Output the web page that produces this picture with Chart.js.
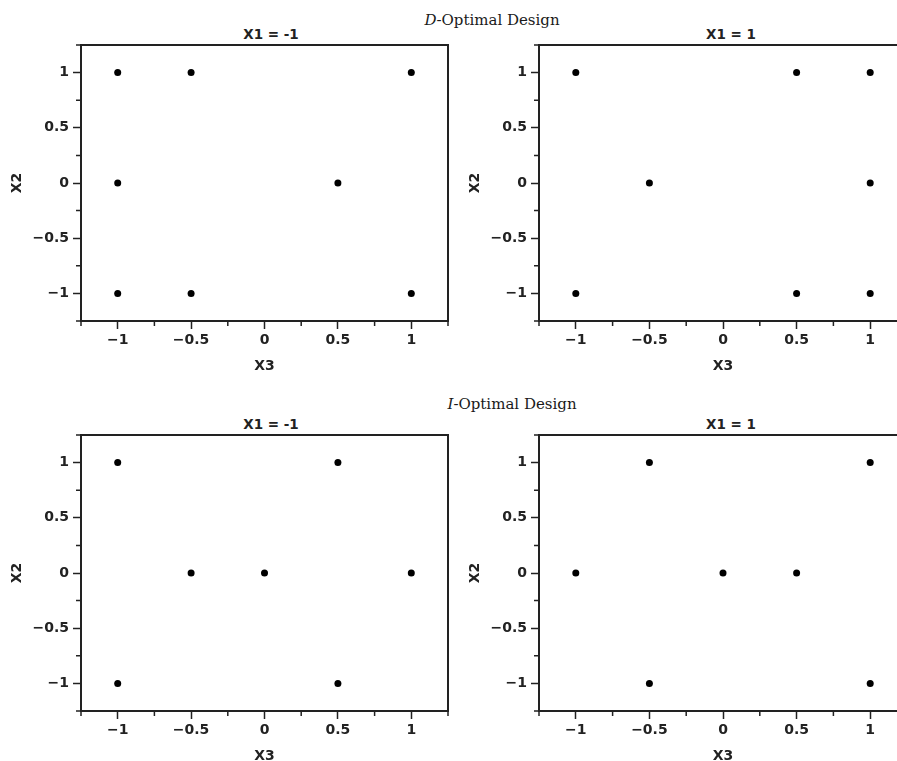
<!DOCTYPE html>
<html>
<head>
<meta charset="utf-8">
<script src="https://cdn.jsdelivr.net/npm/chart.js@4.4.1/dist/chart.umd.min.js"></script>
<style>
html, body { margin: 0; padding: 0; width: 897px; height: 761px; overflow: hidden; background: #fff; }
canvas { position: absolute; }
.sect { position: absolute; font-family: "DejaVu Serif", serif; font-size: 15px; line-height: 15px; color: #1a1a1a; white-space: nowrap; transform: translateX(-50%); }
.ptitle { position: absolute; font-family: "DejaVu Sans", sans-serif; font-weight: bold; font-size: 13.5px; line-height: 14px; color: #222; white-space: nowrap; transform: translateX(-50%); }
</style>
</head>
<body>
<div class="sect" style="left:492px; top:13px;"><i>D</i>-Optimal Design</div>
<div class="sect" style="left:512px; top:397px;"><i>I</i>-Optimal Design</div>
<div class="ptitle" style="left:271px; top:27px;">X1 = -1</div>
<div class="ptitle" style="left:731px; top:27px;">X1 = 1</div>
<div class="ptitle" style="left:271px; top:417px;">X1 = -1</div>
<div class="ptitle" style="left:731px; top:417px;">X1 = 1</div>

<canvas id="dLow" width="460" height="340" style="left:0px; top:40px;"></canvas>
<canvas id="dHigh" width="460" height="340" style="left:458px; top:40px;"></canvas>
<canvas id="iLow" width="460" height="340" style="left:0px; top:430px;"></canvas>
<canvas id="iHigh" width="460" height="340" style="left:458px; top:430px;"></canvas>

<script>
// ==================== DATA ====================
// design points: X3 on the horizontal axis, X2 on the vertical axis
const dOptLowX3 = [-1, -0.5, 1, -1, 0.5, -1, -0.5, 1];
const dOptLowX2 = [1, 1, 1, 0, 0, -1, -1, -1];
const dOptHighX3 = [-1, 0.5, 1, -0.5, 1, -1, 0.5, 1];
const dOptHighX2 = [1, 1, 1, 0, 0, -1, -1, -1];
const iOptLowX3 = [-1, 0.5, -0.5, 0, 1, -1, 0.5];
const iOptLowX2 = [1, 1, 0, 0, 0, -1, -1];
const iOptHighX3 = [-0.5, 1, -1, 0, 0.5, -0.5, 1];
const iOptHighX2 = [1, 1, 0, 0, 0, -1, -1];

const majorTicks = [-1, -0.5, 0, 0.5, 1];
const minorTicks = [-1.25, -0.75, -0.25, 0.25, 0.75, 1.25];
const axisMin = -1.25, axisMax = 1.25;

const INK = '#222';
const tickFont = { family: 'DejaVu Sans', size: 14, weight: 'bold' };

// ==================== HELPERS ====================
function fmt(v) {
    return v < 0 ? '\u2212' + Math.abs(v) : String(v);
}

// top/right frame + short minor ticks
const framePlugin = {
    id: 'frame',
    afterDraw(chart) {
        const { ctx, chartArea: a, scales } = chart;
        ctx.save();
        ctx.strokeStyle = INK;
        ctx.lineWidth = 2;
        ctx.beginPath();
        ctx.moveTo(a.left - 1, a.top);
        ctx.lineTo(a.right, a.top);
        ctx.lineTo(a.right, a.bottom + 1);
        ctx.stroke();

        ctx.lineWidth = 1.5;
        ctx.beginPath();
        minorTicks.forEach(v => {
            const x = scales.x.getPixelForValue(v);
            ctx.moveTo(x, a.bottom);
            ctx.lineTo(x, a.bottom + 5);
            const y = scales.y.getPixelForValue(v);
            ctx.moveTo(a.left, y);
            ctx.lineTo(a.left - 5, y);
        });
        ctx.stroke();
        ctx.restore();
    }
};

function axisOpts(title, isX) {
    return {
        type: 'linear',
        min: axisMin,
        max: axisMax,
        afterBuildTicks: s => { s.ticks = majorTicks.map(v => ({ value: v })); },
        afterFit: s => {
            // fixed axis sizes, no extra label padding around the plot
            if (isX) { s.height = 59; s.paddingLeft = 0; s.paddingRight = 0; }
            else { s.width = 81; s.paddingTop = 0; s.paddingBottom = 0; }
        },
        border: { display: true, color: INK, width: 2 },
        grid: { drawOnChartArea: false, drawTicks: true, tickLength: 8, tickColor: INK, tickWidth: 1.5 },
        ticks: { color: INK, padding: isX ? 3 : 4, font: tickFont, maxRotation: 0, autoSkip: false, callback: v => fmt(v) },
        title: {
            display: true, text: title, color: INK, font: tickFont,
            padding: isX ? { top: 0, bottom: 5 } : { top: 9, bottom: 0 }
        }
    };
}

function makePanel(id, xs, ys, padRight) {
    const pts = xs.map((x, i) => ({ x: x, y: ys[i] }));
    return new Chart(document.getElementById(id), {
        type: 'scatter',
        data: {
            datasets: [{
                data: pts,
                pointRadius: 3.5,
                pointBackgroundColor: '#000',
                pointBorderColor: '#000',
                pointBorderWidth: 0
            }]
        },
        options: {
            responsive: false,
            animation: false,
            layout: { padding: { top: 5, right: padRight, bottom: 0, left: 0 } },
            plugins: { legend: { display: false }, tooltip: { enabled: false } },
            scales: { x: axisOpts('X3', true), y: axisOpts('X2', false) }
        },
        plugins: [framePlugin]
    });
}

// ==================== BUILD ====================
makePanel('dLow', dOptLowX3, dOptLowX2, 12);
makePanel('dHigh', dOptHighX3, dOptHighX2, 11);
makePanel('iLow', iOptLowX3, iOptLowX2, 12);
makePanel('iHigh', iOptHighX3, iOptHighX2, 11);
</script>
</body>
</html>
